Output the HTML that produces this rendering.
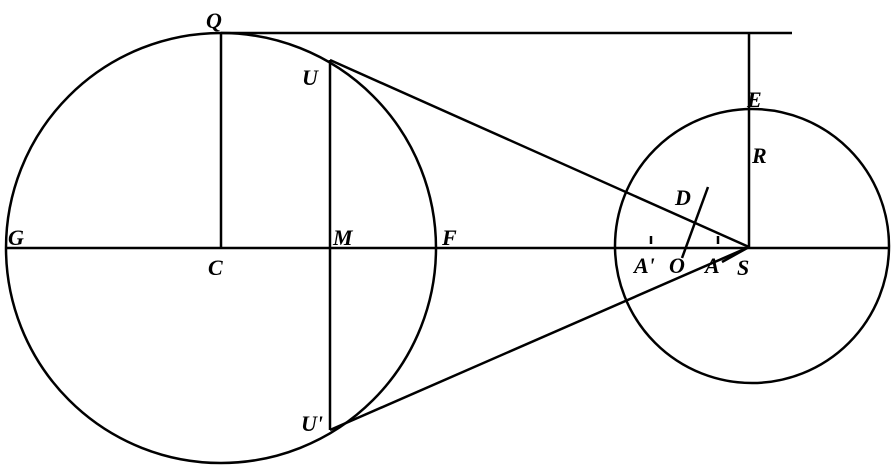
<!DOCTYPE html>
<html><head><meta charset="utf-8"><style>
html,body{margin:0;padding:0;background:#fff;width:894px;height:467px;overflow:hidden}
text{font-family:"Liberation Serif",serif;font-weight:bold;font-style:italic;font-size:22px;fill:#000}
</style></head><body>
<svg width="894" height="467" viewBox="0 0 894 467" xmlns="http://www.w3.org/2000/svg">
<g stroke="#000" fill="none" stroke-width="2.5">
<circle cx="221" cy="248" r="215"/>
<circle cx="752" cy="246" r="137"/>
<line x1="6" y1="248" x2="890" y2="248"/>
<line x1="221" y1="33" x2="792" y2="33"/>
<line x1="221" y1="33" x2="221" y2="248"/>
<line x1="749" y1="33" x2="749" y2="248"/>
<line x1="330" y1="60" x2="330" y2="430"/>
<line x1="330" y1="60" x2="749" y2="247"/>
<line x1="330" y1="430" x2="749" y2="247"/>
<line x1="708" y1="187" x2="682" y2="258"/>
<line x1="722" y1="262" x2="749" y2="247"/>
<line x1="651" y1="236" x2="651" y2="244"/>
<line x1="718" y1="236" x2="718" y2="244"/>
</g>
<text x="206" y="28">Q</text>
<text x="302" y="85">U</text>
<text x="747" y="107">E</text>
<text x="752" y="163">R</text>
<text x="675" y="205">D</text>
<text x="8" y="245">G</text>
<text x="333" y="245">M</text>
<text x="442" y="245">F</text>
<text x="208" y="275">C</text>
<text x="634" y="273">A'</text>
<text x="669" y="273">O</text>
<text x="705" y="273">A</text>
<text x="737" y="275">S</text>
<text x="301" y="431">U'</text>
</svg>
</body></html>
